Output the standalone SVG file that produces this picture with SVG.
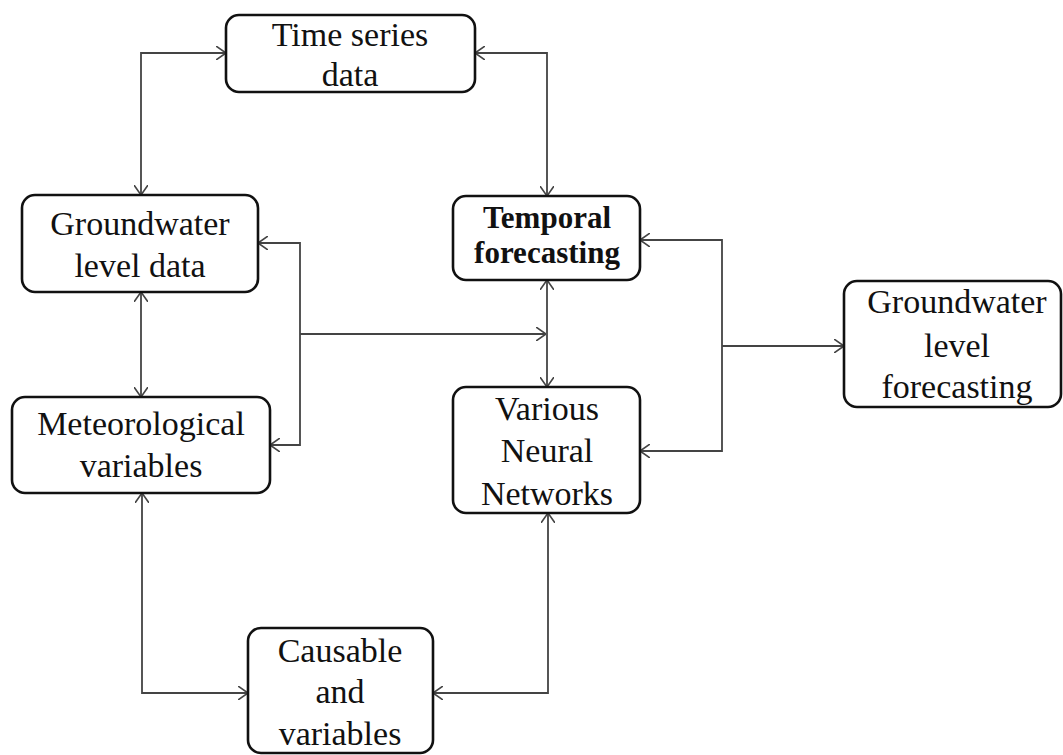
<svg xmlns="http://www.w3.org/2000/svg" width="1063" height="755" viewBox="0 0 1063 755">
<style>
.box{fill:#fff;stroke:#111;stroke-width:2.6}
.t{font-family:"Liberation Serif","Times New Roman",serif;font-size:34px;fill:#111;text-anchor:middle}
.b{font-weight:bold;font-size:31px}
.c{fill:none;stroke:#444;stroke-width:1.8}
</style>
<defs>
<marker id="ah" viewBox="0 0 10 14" refX="10" refY="7" markerWidth="10" markerHeight="14" markerUnits="userSpaceOnUse" orient="auto-start-reverse">
<path d="M0,0 L10,7 L0,14" fill="none" stroke="#444" stroke-width="1.6"/>
</marker>
</defs>
<rect width="1063" height="755" fill="#fff"/>
<g id="connectors">
<path class="c" d="M226,53 H141 V195" marker-start="url(#ah)" marker-end="url(#ah)"/>
<path class="c" d="M475,53 H547 V196" marker-start="url(#ah)" marker-end="url(#ah)"/>
<path class="c" d="M141,292 V397" marker-start="url(#ah)" marker-end="url(#ah)"/>
<path class="c" d="M258,243 H300 V445 H270" marker-start="url(#ah)" marker-end="url(#ah)"/>
<path class="c" d="M300,334 H546" marker-end="url(#ah)"/>
<path class="c" d="M547,280 V387" marker-start="url(#ah)" marker-end="url(#ah)"/>
<path class="c" d="M640,240 H722 V451 H640" marker-start="url(#ah)" marker-end="url(#ah)"/>
<path class="c" d="M722,346 H844" marker-end="url(#ah)"/>
<path class="c" d="M142,493 V693 H248" marker-start="url(#ah)" marker-end="url(#ah)"/>
<path class="c" d="M548,513 V693 H433" marker-start="url(#ah)" marker-end="url(#ah)"/>
</g>
<g id="timeseries">
<rect class="box" x="226" y="15" width="249" height="77" rx="13"/>
<text class="t" x="350" y="46">Time series</text>
<text class="t" x="350" y="86">data</text>
</g>
<g id="groundwater">
<rect class="box" x="22" y="195" width="236" height="97" rx="13"/>
<text class="t" x="140" y="235">Groundwater</text>
<text class="t" x="140" y="277">level data</text>
</g>
<g id="meteorological">
<rect class="box" x="12" y="397" width="258" height="96" rx="13"/>
<text class="t" x="141" y="435">Meteorological</text>
<text class="t" x="141" y="477">variables</text>
</g>
<g id="temporal">
<rect class="box" x="453" y="196" width="187" height="84" rx="13"/>
<text class="t b" x="547" y="228">Temporal</text>
<text class="t b" x="547" y="263">forecasting</text>
</g>
<g id="neural">
<rect class="box" x="453" y="387" width="187" height="126" rx="13"/>
<text class="t" x="547" y="420">Various</text>
<text class="t" x="547" y="462">Neural</text>
<text class="t" x="547" y="505">Networks</text>
</g>
<g id="forecasting">
<rect class="box" x="844" y="281" width="217" height="126" rx="13"/>
<text class="t" x="957" y="313">Groundwater</text>
<text class="t" x="957" y="357">level</text>
<text class="t" x="957" y="398">forecasting</text>
</g>
<g id="causable">
<rect class="box" x="248" y="628" width="185" height="125" rx="13"/>
<text class="t" x="340" y="662">Causable</text>
<text class="t" x="340" y="703">and</text>
<text class="t" x="340" y="745">variables</text>
</g>
</svg>
